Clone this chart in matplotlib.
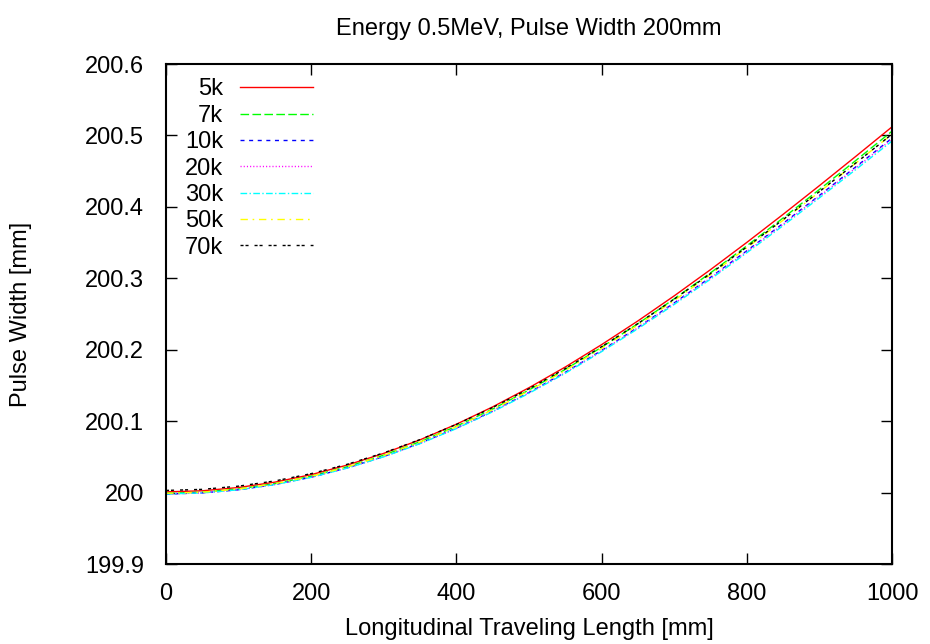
import matplotlib
matplotlib.use("Agg")
import matplotlib.pyplot as plt

plt.rcParams['font.family'] = ['Liberation Sans', 'DejaVu Sans']

length_mm = [0, 50, 100, 150, 200, 250, 300, 350, 400, 450, 500,
             550, 600, 650, 700, 750, 800, 850, 900, 950, 1000]
w5k  = [200.001, 200.0025, 200.0071, 200.0146, 200.0251, 200.0386, 200.0549, 200.0739, 200.0957, 200.1200, 200.1468,
        200.1758, 200.2071, 200.2403, 200.2754, 200.3121, 200.3502, 200.3895, 200.4297, 200.4706, 200.5120]
w7k  = [199.999, 200.0005, 200.0051, 200.0125, 200.0229, 200.0363, 200.0525, 200.0713, 200.0929, 200.1170, 200.1436,
        200.1724, 200.2035, 200.2364, 200.2712, 200.3076, 200.3454, 200.3844, 200.4243, 200.4648, 200.5059]
w10k = [199.998, 199.9995, 200.0039, 200.0113, 200.0215, 200.0347, 200.0506, 200.0691, 200.0903, 200.1140, 200.1402,
        200.1684, 200.1989, 200.2313, 200.2655, 200.3013, 200.3385, 200.3768, 200.4160, 200.4559, 200.4962]
w20k = [199.998, 199.9995, 200.0039, 200.0112, 200.0214, 200.0345, 200.0504, 200.0689, 200.0900, 200.1137, 200.1397,
        200.1679, 200.1983, 200.2306, 200.2647, 200.3004, 200.3374, 200.3756, 200.4147, 200.4545, 200.4947]
w30k = [199.998, 199.9995, 200.0039, 200.0112, 200.0213, 200.0344, 200.0501, 200.0685, 200.0896, 200.1131, 200.1390,
        200.1670, 200.1973, 200.2294, 200.2633, 200.2988, 200.3357, 200.3737, 200.4126, 200.4521, 200.4921]
w50k = [199.999, 200.0005, 200.0050, 200.0124, 200.0227, 200.0360, 200.0520, 200.0707, 200.0922, 200.1161, 200.1425,
        200.1710, 200.2018, 200.2345, 200.2690, 200.3051, 200.3426, 200.3813, 200.4208, 200.4611, 200.5018]
w70k = [200.003, 200.0045, 200.0090, 200.0163, 200.0265, 200.0397, 200.0556, 200.0742, 200.0954, 200.1191, 200.1453,
        200.1736, 200.2042, 200.2366, 200.2708, 200.3066, 200.3438, 200.3822, 200.4214, 200.4613, 200.5017]

labels = ['5k', '7k', '10k', '20k', '30k', '50k', '70k']
series = [w5k, w7k, w10k, w20k, w30k, w50k, w70k]
colors = ['#ff0000', '#00ff00', '#0000ff', '#ff00ff', '#00ffff', '#ffff00', '#000000']
styles = ['-', (0, (6.2, 2.4)), (0, (2.9, 3.3)), (0, (0.8, 1.5)),
          (0, (4.8, 1.7, 1.0, 1.7)), (0, (5.3, 3.4, 1.2, 3.4)), (0, (2.2, 1.4, 2.2, 4.3))]

xticks = [0, 200, 400, 600, 800, 1000]
yticks = [199.9, 200.0, 200.1, 200.2, 200.3, 200.4, 200.5, 200.6]
ytick_labels = ['199.9', '200', '200.1', '200.2', '200.3', '200.4', '200.5', '200.6']

FS = 17

fig = plt.figure(figsize=(9.3, 6.44), dpi=100)
ax = fig.add_axes([166/930, 1-564/644, (892-166)/930, (564-64)/644])

for s, lab, c, ls in zip(series, labels, colors, styles):
    ax.plot(length_mm, s, color=c, linestyle=ls, linewidth=1.0, label=lab)

ax.set_xlim(0, 1000)
ax.set_ylim(199.9, 200.6)
ax.set_xticks(xticks)
ax.set_xticklabels([str(v) for v in xticks])
ax.set_yticks(yticks)
ax.set_yticklabels(ytick_labels)
ax.tick_params(direction='in', length=8, width=1, top=True, right=True, labelsize=FS)
ax.tick_params(axis='y', pad=16)
ax.tick_params(axis='x', pad=14)
for sp in ax.spines.values():
    sp.set_linewidth(1.5)

ax.set_title('Energy 0.5MeV, Pulse Width 200mm', fontsize=FS, pad=21)
ax.set_xlabel('Longitudinal Traveling Length [mm]', fontsize=FS, labelpad=9)
ax.set_ylabel('Pulse Width [mm]', fontsize=FS, labelpad=38)

leg = ax.legend(loc='upper left', markerfirst=False, frameon=False, fontsize=FS,
                handlelength=3.1, handletextpad=0.7, labelspacing=0.185,
                borderaxespad=0.0, borderpad=0.55, bbox_to_anchor=(0.008, 0.997))

fig.savefig('out.png', dpi=100)
